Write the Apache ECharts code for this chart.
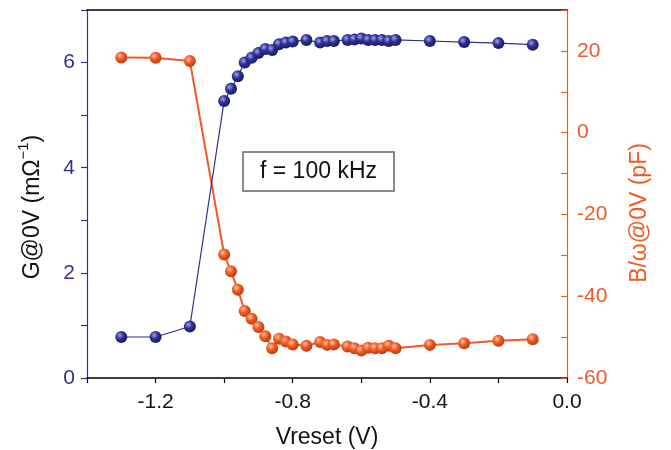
<!DOCTYPE html>
<html><head><meta charset="utf-8">
<script src="https://cdn.jsdelivr.net/npm/echarts@6/dist/echarts.min.js"></script>
<style>html,body{margin:0;padding:0;background:#fff}#c{width:671px;height:450px}</style>
</head><body><div id="c"></div>
<script>
const vreset = [-1.3,-1.2,-1.1,-1.0,-0.98,-0.96,-0.94,-0.92,-0.90,-0.88,-0.86,-0.84,-0.82,-0.80,-0.76,-0.72,-0.70,-0.68,-0.64,-0.62,-0.60,-0.58,-0.56,-0.54,-0.52,-0.50,-0.4,-0.3,-0.2,-0.1];
const gValues = [0.78,0.78,0.98,5.27,5.50,5.74,6.00,6.09,6.18,6.26,6.24,6.35,6.38,6.40,6.43,6.38,6.41,6.41,6.43,6.44,6.46,6.43,6.43,6.43,6.41,6.43,6.41,6.39,6.37,6.34];
const bValues = [18.4,18.3,17.5,-29.8,-33.9,-38.4,-43.6,-45.5,-47.5,-49.8,-52.7,-50.4,-51.1,-51.8,-52.1,-51.2,-51.9,-51.8,-52.3,-52.7,-53.3,-52.6,-52.7,-52.7,-52.1,-52.7,-51.9,-51.5,-50.9,-50.5];
const xTickLabels = ['-1.2','-0.8','-0.4','0.0'];
const gTickLabels = ['0','2','4','6'];
const bTickLabels = ['-60','-40','-20','0','20'];

const BLUE = '#2e3192', ORANGE = '#f15a24';
const FONT = 'Liberation Sans, Arial, sans-serif';
function ball(light, mid, dark){
  return {type:'radial', x:0.38, y:0.35, r:0.7, colorStops:[{offset:0,color:light},{offset:0.45,color:mid},{offset:1,color:dark}]};
}
const chart = echarts.init(document.getElementById('c'));
chart.setOption({
  animation:false,
  grid:{left:87, right:104, top:10, bottom:72, outerBoundsMode:'none', containLabel:false},
  xAxis:[{
    type:'value', min:-1.4, max:0, interval:0.2, position:'bottom',
    axisLine:{show:true, onZero:false, lineStyle:{color:'#000', width:1.5}},
    axisTick:{show:true, length:5, lineStyle:{color:'#000', width:1.2}},
    axisLabel:{fontFamily:FONT, fontSize:21, color:'#111', margin:14,
      formatter:v=>{const s=v.toFixed(1); return xTickLabels.includes(s)?s:'';}},
    splitLine:{show:false},
    name:'Vreset (V)', nameLocation:'middle', nameGap:48,
    nameTextStyle:{fontFamily:FONT, fontSize:23, color:'#111'}
  },{
    type:'value', min:-1.4, max:0, position:'top',
    axisLine:{show:true, onZero:false, lineStyle:{color:'#000', width:1.5}},
    axisTick:{show:false}, axisLabel:{show:false}, splitLine:{show:false}
  }],
  yAxis:[{
    type:'value', min:0, max:7, interval:1, position:'left',
    axisLine:{show:true, onZero:false, lineStyle:{color:BLUE, width:1.2}},
    axisTick:{show:true, length:6, lineStyle:{color:BLUE, width:1.2}},
    axisLabel:{fontFamily:FONT, fontSize:21, color:BLUE, margin:12,
      formatter:v=>{const s=String(v); return gTickLabels.includes(s)?s:'';}},
    splitLine:{show:false}
  },{
    type:'value', min:-60, max:30, interval:10, position:'right',
    axisLine:{show:true, onZero:false, lineStyle:{color:ORANGE, width:1.2}},
    axisTick:{show:true, inside:true, length:6, lineStyle:{color:ORANGE, width:1.2}},
    axisLabel:{fontFamily:FONT, fontSize:21, color:ORANGE, margin:10,
      formatter:v=>{const s=String(v); return bTickLabels.includes(s)?s:'';}},
    splitLine:{show:false}
  }],
  series:[{
    type:'line', xAxisIndex:0, yAxisIndex:0,
    data:vreset.map((x,i)=>[x,gValues[i]]),
    lineStyle:{color:BLUE, width:1.2},
    symbol:'circle', symbolSize:12,
    itemStyle:{color:ball('#9fa3e8', BLUE, '#151860')},
    z:3
  },{
    type:'line', xAxisIndex:0, yAxisIndex:1,
    data:vreset.map((x,i)=>[x,bValues[i]]),
    lineStyle:{color:ORANGE, width:2},
    symbol:'circle', symbolSize:12,
    itemStyle:{color:ball('#ffc0a0', ORANGE, '#b8380c')},
    z:2
  }],
  graphic:[
    {type:'rect', shape:{x:243, y:152, width:151, height:39}, style:{fill:'#fff', stroke:'#666', lineWidth:1.5}, z:10},
    {type:'text', x:318.5, y:172, style:{text:'f = 100 kHz', fontFamily:FONT, fontSize:23, fill:'#111', align:'center', verticalAlign:'middle'}, z:11},
    {type:'text', x:30, y:207, rotation:Math.PI/2,
      style:{text:'{b|G@0V (mΩ}{s|−1}{b|)}', align:'center', verticalAlign:'middle',
        rich:{b:{fontFamily:FONT, fontSize:23, fill:'#111', lineHeight:28, verticalAlign:'bottom'},
              s:{fontFamily:FONT, fontSize:15, fill:'#111', lineHeight:28, verticalAlign:'top'}}}},
    {type:'text', x:640, y:213, rotation:Math.PI/2,
      style:{text:'B/ω@0V (pF)', fontFamily:FONT, fontSize:23, fill:ORANGE, align:'center', verticalAlign:'middle'}}
  ]
});
</script></body></html>
